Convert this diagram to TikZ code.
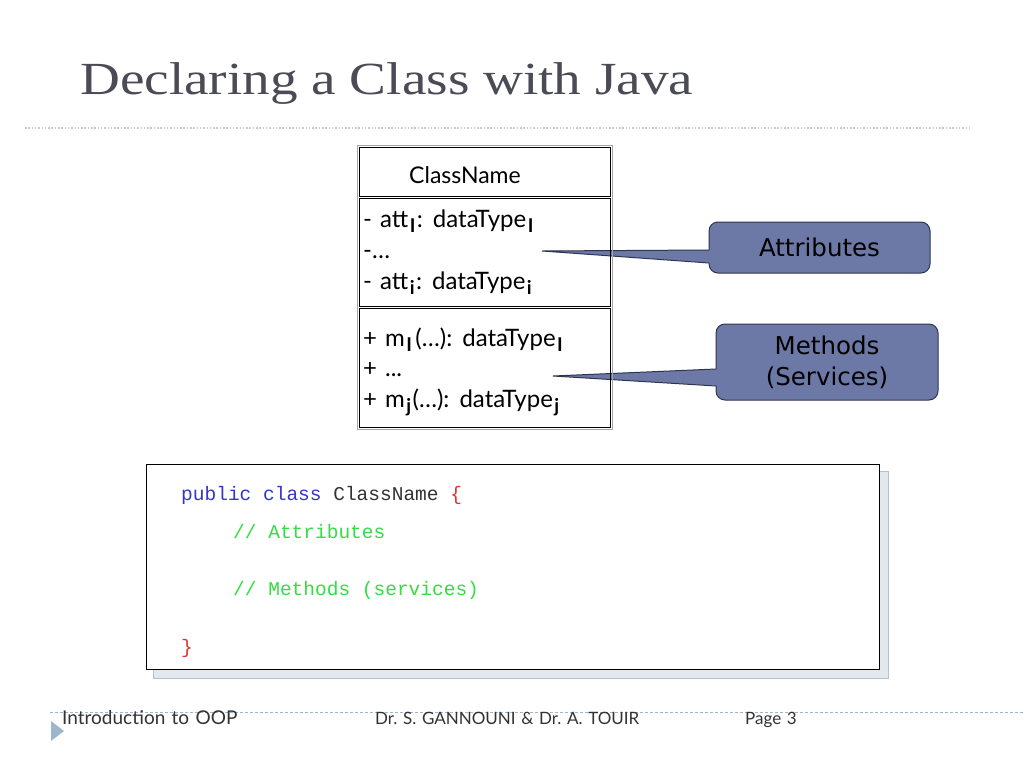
\documentclass[tikz,border=0pt]{standalone}
\usepackage{fontspec}
\setmainfont{Liberation Serif}
\newfontfamily\gillfont[WordSpace=1.3]{Lato}
\newfontfamily\comicfont{DejaVu Sans}
\newfontfamily\codefont{Liberation Mono}
\definecolor{titlegray}{HTML}{4B4B55}
\definecolor{dotgray}{HTML}{C8CCD0}
\definecolor{callfill}{HTML}{6C79A6}
\definecolor{callline}{HTML}{2E3550}
\definecolor{shadowfill}{HTML}{E2E8EE}
\definecolor{shadowline}{HTML}{B4C2CE}
\definecolor{kwblue}{HTML}{3535C8}
\definecolor{cmgreen}{HTML}{33DD44}
\definecolor{brred}{HTML}{E03030}
\definecolor{footblue}{HTML}{9DB6CC}
\definecolor{foottext}{HTML}{333333}
\newcommand{\csub}[1]{\hspace{1.5pt}\raisebox{-5.5pt}{\bfseries\fontsize{19}{19}\selectfont #1}\hspace{1.5pt}}
\tikzset{
  classtext/.style={anchor=base west, inner sep=0pt, font=\gillfont\fontsize{24}{26}\selectfont},
  callout/.style={draw=callline, line width=1pt, fill=callfill, rounded corners=9pt, align=center,
     font=\comicfont\fontsize{24.5}{31}\selectfont, text=black, inner sep=0pt},
  codetext/.style={anchor=base west, inner sep=0pt, font=\codefont\fontsize{19.5}{22}\selectfont},
  foot/.style={anchor=base west, inner sep=0pt, font=\gillfont\fontsize{17}{20}\selectfont, text=foottext},
  sect/.style={draw=black, line width=0.9pt},
}
\begin{document}
\begin{tikzpicture}[x=1pt,y=-1pt]
\useasboundingbox[fill=white] (0,0) rectangle (1024,768);
% title
\node[anchor=base west, inner sep=0pt, text=titlegray, font=\fontsize{46}{50}\selectfont] (title) at (80,94) {\scalebox{1.2}[1]{Declaring a Class with Java}};
\coordinate (tl1) at (25,128);
\coordinate (tl2) at (972,128);
\draw[dotgray, line width=1.2pt, dash pattern=on 1.5pt off 1.8pt] (tl1) -- (tl2);

% callouts
\node[callout, minimum width=221pt, minimum height=51pt] (attr) at (819.5,247.5) {Attributes};
\coordinate (atip) at (542,251);
\coordinate (ab1) at (709,250);
\coordinate (ab2) at (709,263);
\fill[callfill] (711,250) -- (atip) -- (711,263) -- cycle;
\draw[callline, line width=1pt] (ab1) -- (atip) -- (ab2);

\node[callout, minimum width=222pt, minimum height=76pt] (meth) at (827,362) {Methods\\(Services)};
\coordinate (mtip) at (553,376);
\coordinate (mb1) at (716,369);
\coordinate (mb2) at (716,386);
\fill[callfill] (718,369) -- (mtip) -- (718,386) -- cycle;
\draw[callline, line width=1pt] (mb1) -- (mtip) -- (mb2);

% class box
\draw[gray!70, line width=0.9pt] (357,145) rectangle (612,429);
\draw[sect] (359,147) rectangle (610,196);
\draw[sect] (359,198) rectangle (610,306);
\draw[sect] (359,308) rectangle (610,427);
\node[anchor=base, inner sep=0pt, font=\gillfont\fontsize{23}{26}\selectfont] (cname) at (465,183) {ClassName};
\node[classtext] (a1) at (363,227) {- att\csub{I}: dataType\csub{I}};
\node[classtext] (a2) at (363,258) {-\ldots};
\node[classtext] (a3) at (363,289) {- att\csub{i}: dataType\csub{i}};
\node[classtext] (m1) at (363,346) {+ m\csub{I}\hspace{2pt}(\ldots): dataType\csub{I}};
\node[classtext] (m2) at (363,376) {+ ...};
\node[classtext] (m3) at (363,407) {+ m\csub{j}(\ldots): dataType\csub{j}};

% code box
\draw[shadowline, fill=shadowfill, line width=0.8pt] (153,471) rectangle (888,678);
\draw[black, fill=white, line width=1pt] (146,464) rectangle (879,669);
\node[codetext] (c1) at (181,500) {\textcolor{kwblue}{public class} \textcolor{black!80}{ClassName} \textcolor{brred}{\{}};
\node[codetext, text=cmgreen] (c2) at (233,538) {// Attributes};
\node[codetext, text=cmgreen] (c3) at (233,595) {// Methods (services)};
\node[codetext, text=brred] (c4) at (181,653) {\}};

% footer
\coordinate (fl1) at (50,712);
\coordinate (fl2) at (1024,712);
\draw[footblue, line width=0.9pt, dash pattern=on 3pt off 2pt] (fl1) -- (fl2);
\fill[footblue] (51,721) -- (64,731) -- (51,741) -- cycle;
\node[foot, font=\gillfont\fontsize{19}{20}\selectfont] (f1) at (62,724) {Introduction to OOP};
\node[foot] (f2) at (375,724) {Dr.~S. GANNOUNI \& Dr.\ A. TOUIR};
\node[foot] (f3) at (745,724) {Page 3};
\end{tikzpicture}
\end{document}
